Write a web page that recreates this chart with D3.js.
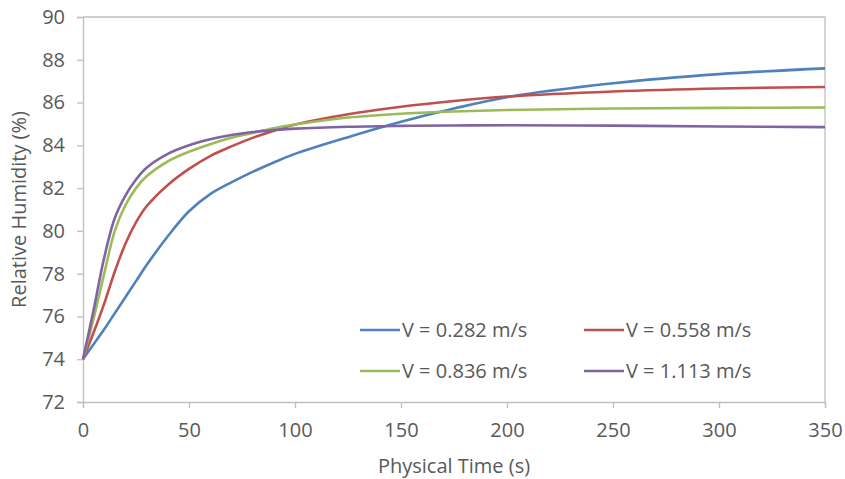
<!doctype html>
<html>
  <head>
    <meta charset="utf-8">
    <title>Relative humidity vs physical time</title>
    <script src="https://cdnjs.cloudflare.com/ajax/libs/d3/7.8.5/d3.min.js"></script>
    <style>
      body { margin: 0; background: #fff; }
      text { font-family: "Open Sans", sans-serif; fill: #595959; }
    </style>
  </head>
  <body>
    <div id="chart"></div>
    <script>
      // data
      const times = [0, 5, 10, 15, 20, 25, 30, 40, 50, 60, 70, 80, 90, 100, 125, 150, 175, 200, 250, 300, 350];
      const rh0282 = [74, 74.7, 75.4, 76.15, 76.9, 77.65, 78.4, 79.75, 80.92, 81.72, 82.27, 82.76, 83.2, 83.6, 84.38, 85.1, 85.72, 86.25, 86.9, 87.33, 87.6];
      const rh0558 = [74, 75.25, 76.6, 78.1, 79.4, 80.4, 81.15, 82.15, 82.9, 83.5, 83.95, 84.35, 84.68, 84.97, 85.45, 85.8, 86.07, 86.28, 86.52, 86.66, 86.73];
      const rh0836 = [74, 75.9, 78.0, 80.0, 81.2, 82.0, 82.55, 83.25, 83.7, 84.05, 84.35, 84.58, 84.8, 84.97, 85.3, 85.48, 85.58, 85.65, 85.72, 85.75, 85.77];
      const rh1113 = [74, 76.3, 78.75, 80.6, 81.65, 82.4, 82.95, 83.6, 84.0, 84.28, 84.48, 84.62, 84.71, 84.78, 84.87, 84.91, 84.93, 84.94, 84.92, 84.88, 84.85];
      const seriesNames = ['V = 0.282 m/s', 'V = 0.558 m/s', 'V = 0.836 m/s', 'V = 1.113 m/s'];
      const xTicks = [0, 50, 100, 150, 200, 250, 300, 350];
      const yTicks = [72, 74, 76, 78, 80, 82, 84, 86, 88, 90];

      const colors = ['#4F81BD', '#C0504D', '#9BBB59', '#8064A2'];
      const allSeries = [rh0282, rh0558, rh0836, rh1113];

      const width = 845, height = 479;
      const plotL = 83, plotR = 825, plotT = 17, plotB = 402;

      const x = d3.scaleLinear().domain([0, 350]).range([plotL, plotR]);
      const y = d3.scaleLinear().domain([72, 90]).range([plotB, plotT]);

      const svg = d3.select('#chart')
        .append('svg')
        .attr('width', width)
        .attr('height', height);

      // plot border (top + right)
      svg.append('path')
        .attr('d', `M${plotL},${plotT}H${plotR}V${plotB}`)
        .attr('fill', 'none')
        .attr('stroke', '#bfbfbf')
        .attr('stroke-width', 1.3);

      // axes
      const xAxis = svg.append('g')
        .attr('transform', `translate(0,${plotB})`)
        .call(d3.axisBottom(x).tickValues(xTicks).tickSize(6).tickPadding(15));

      const yAxis = svg.append('g')
        .attr('transform', `translate(${plotL},0)`)
        .call(d3.axisLeft(y).tickValues(yTicks).tickSize(6).tickPadding(12));

      [xAxis, yAxis].forEach(g => {
        g.select('.domain').attr('stroke', '#bfbfbf').attr('stroke-width', 1.3);
        g.selectAll('.tick line').attr('stroke', '#bfbfbf').attr('stroke-width', 1.3);
        g.selectAll('.tick text')
          .style('font-family', '"Open Sans", sans-serif')
          .style('font-size', '20px')
          .attr('fill', '#595959');
      });

      // lines (smoothed like the spreadsheet)
      const line = d3.line()
        .x((d, i) => x(times[i]))
        .y(d => y(d))
        .curve(d3.curveCatmullRom.alpha(0.5));

      svg.selectAll('path.series')
        .data(allSeries)
        .join('path')
        .attr('class', 'series')
        .attr('d', d => line(d))
        .attr('fill', 'none')
        .attr('stroke', (d, i) => colors[i])
        .attr('stroke-width', 2.6)
        .attr('stroke-linejoin', 'round');

      // axis titles
      svg.append('text')
        .attr('x', (plotL + plotR) / 2)
        .attr('y', 473)
        .attr('text-anchor', 'middle')
        .style('font-size', '20px')
        .text('Physical Time (s)');

      svg.append('text')
        .attr('transform', `translate(26,${(plotT + plotB) / 2}) rotate(-90)`)
        .attr('text-anchor', 'middle')
        .style('font-size', '20px')
        .text('Relative Humidity (%)');

      // legend, 2 x 2
      const legend = svg.selectAll('g.legend')
        .data(seriesNames)
        .join('g')
        .attr('class', 'legend')
        .attr('transform', (d, i) => `translate(${i % 2 === 0 ? 360 : 584},${i < 2 ? 330 : 371})`);

      legend.append('line')
        .attr('x1', 0).attr('x2', 40)
        .attr('stroke', (d, i) => colors[i])
        .attr('stroke-width', 2.6);

      legend.append('text')
        .attr('x', 42)
        .attr('dy', '0.35em')
        .style('font-size', '20px')
        .text(d => d);
    </script>
  </body>
</html>
